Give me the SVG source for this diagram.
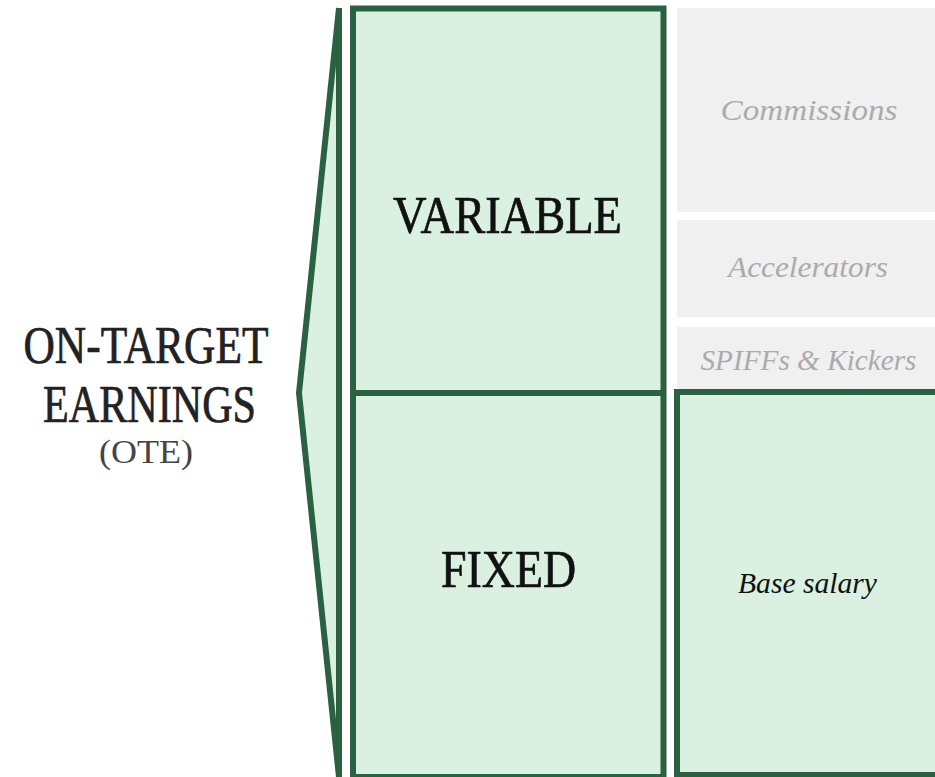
<svg xmlns="http://www.w3.org/2000/svg" width="935" height="777" viewBox="0 0 935 777">
<style>
.green{fill:#daf0e1;stroke:#2a6140;stroke-width:6}
.gray{fill:#f0f0f0}
.big{font-family:"Liberation Serif","DejaVu Serif",serif;fill:#111;text-anchor:middle;stroke:#111;stroke-width:0.7}
.it{font-family:"Liberation Serif","DejaVu Serif",serif;font-style:italic;text-anchor:middle;font-size:30px}
.lite{fill:#ababab}
</style>
<rect width="935" height="777" fill="#ffffff"/>
<g id="bracket">
<polygon points="339,8 299,393 339,777" fill="#daf0e1"/>
<polyline points="339,8 299,393 339,777" fill="none" stroke="#2a6140" stroke-width="6" stroke-linejoin="miter"/>
<line x1="339" y1="8" x2="339" y2="777" stroke="#2a6140" stroke-width="6"/>
</g>
<g id="ote-label">
<text class="big" x="146" y="363" font-size="52" textLength="245" lengthAdjust="spacingAndGlyphs" style="fill:#222;stroke:#222">ON-TARGET</text>
<text class="big" x="149.5" y="421.5" font-size="52" textLength="213" lengthAdjust="spacingAndGlyphs" style="fill:#222;stroke:#222">EARNINGS</text>
<text class="big" x="146" y="463" font-size="33" textLength="94" lengthAdjust="spacingAndGlyphs" style="fill:#444;stroke:none">(OTE)</text>
</g>
<g id="main">
<rect class="green" x="353" y="8.5" width="310.5" height="768.5"/>
<line x1="353" y1="393" x2="663.5" y2="393" stroke="#2a6140" stroke-width="6"/>
</g>
<g id="variable">
<text class="big" x="507.5" y="233" font-size="53" textLength="229" lengthAdjust="spacingAndGlyphs">VARIABLE</text>
</g>
<g id="fixed">
<text class="big" x="508.5" y="587" font-size="52" textLength="135" lengthAdjust="spacingAndGlyphs">FIXED</text>
</g>
<g id="commissions">
<rect class="gray" x="677" y="8" width="258" height="204"/>
<text class="it lite" x="809" y="120" textLength="177" lengthAdjust="spacingAndGlyphs">Commissions</text>
</g>
<g id="accelerators">
<rect class="gray" x="677" y="220" width="258" height="97"/>
<text class="it lite" x="808" y="277" textLength="160" lengthAdjust="spacingAndGlyphs">Accelerators</text>
</g>
<g id="spiffs">
<rect class="gray" x="677" y="327" width="258" height="62"/>
<text class="it lite" x="808.5" y="370" textLength="216" lengthAdjust="spacingAndGlyphs">SPIFFs &amp; Kickers</text>
</g>
<g id="base-salary">
<rect class="green" x="677" y="392" width="300" height="383"/>
<text class="it" x="807.5" y="593" fill="#111" textLength="139" lengthAdjust="spacingAndGlyphs">Base salary</text>
</g>
</svg>
